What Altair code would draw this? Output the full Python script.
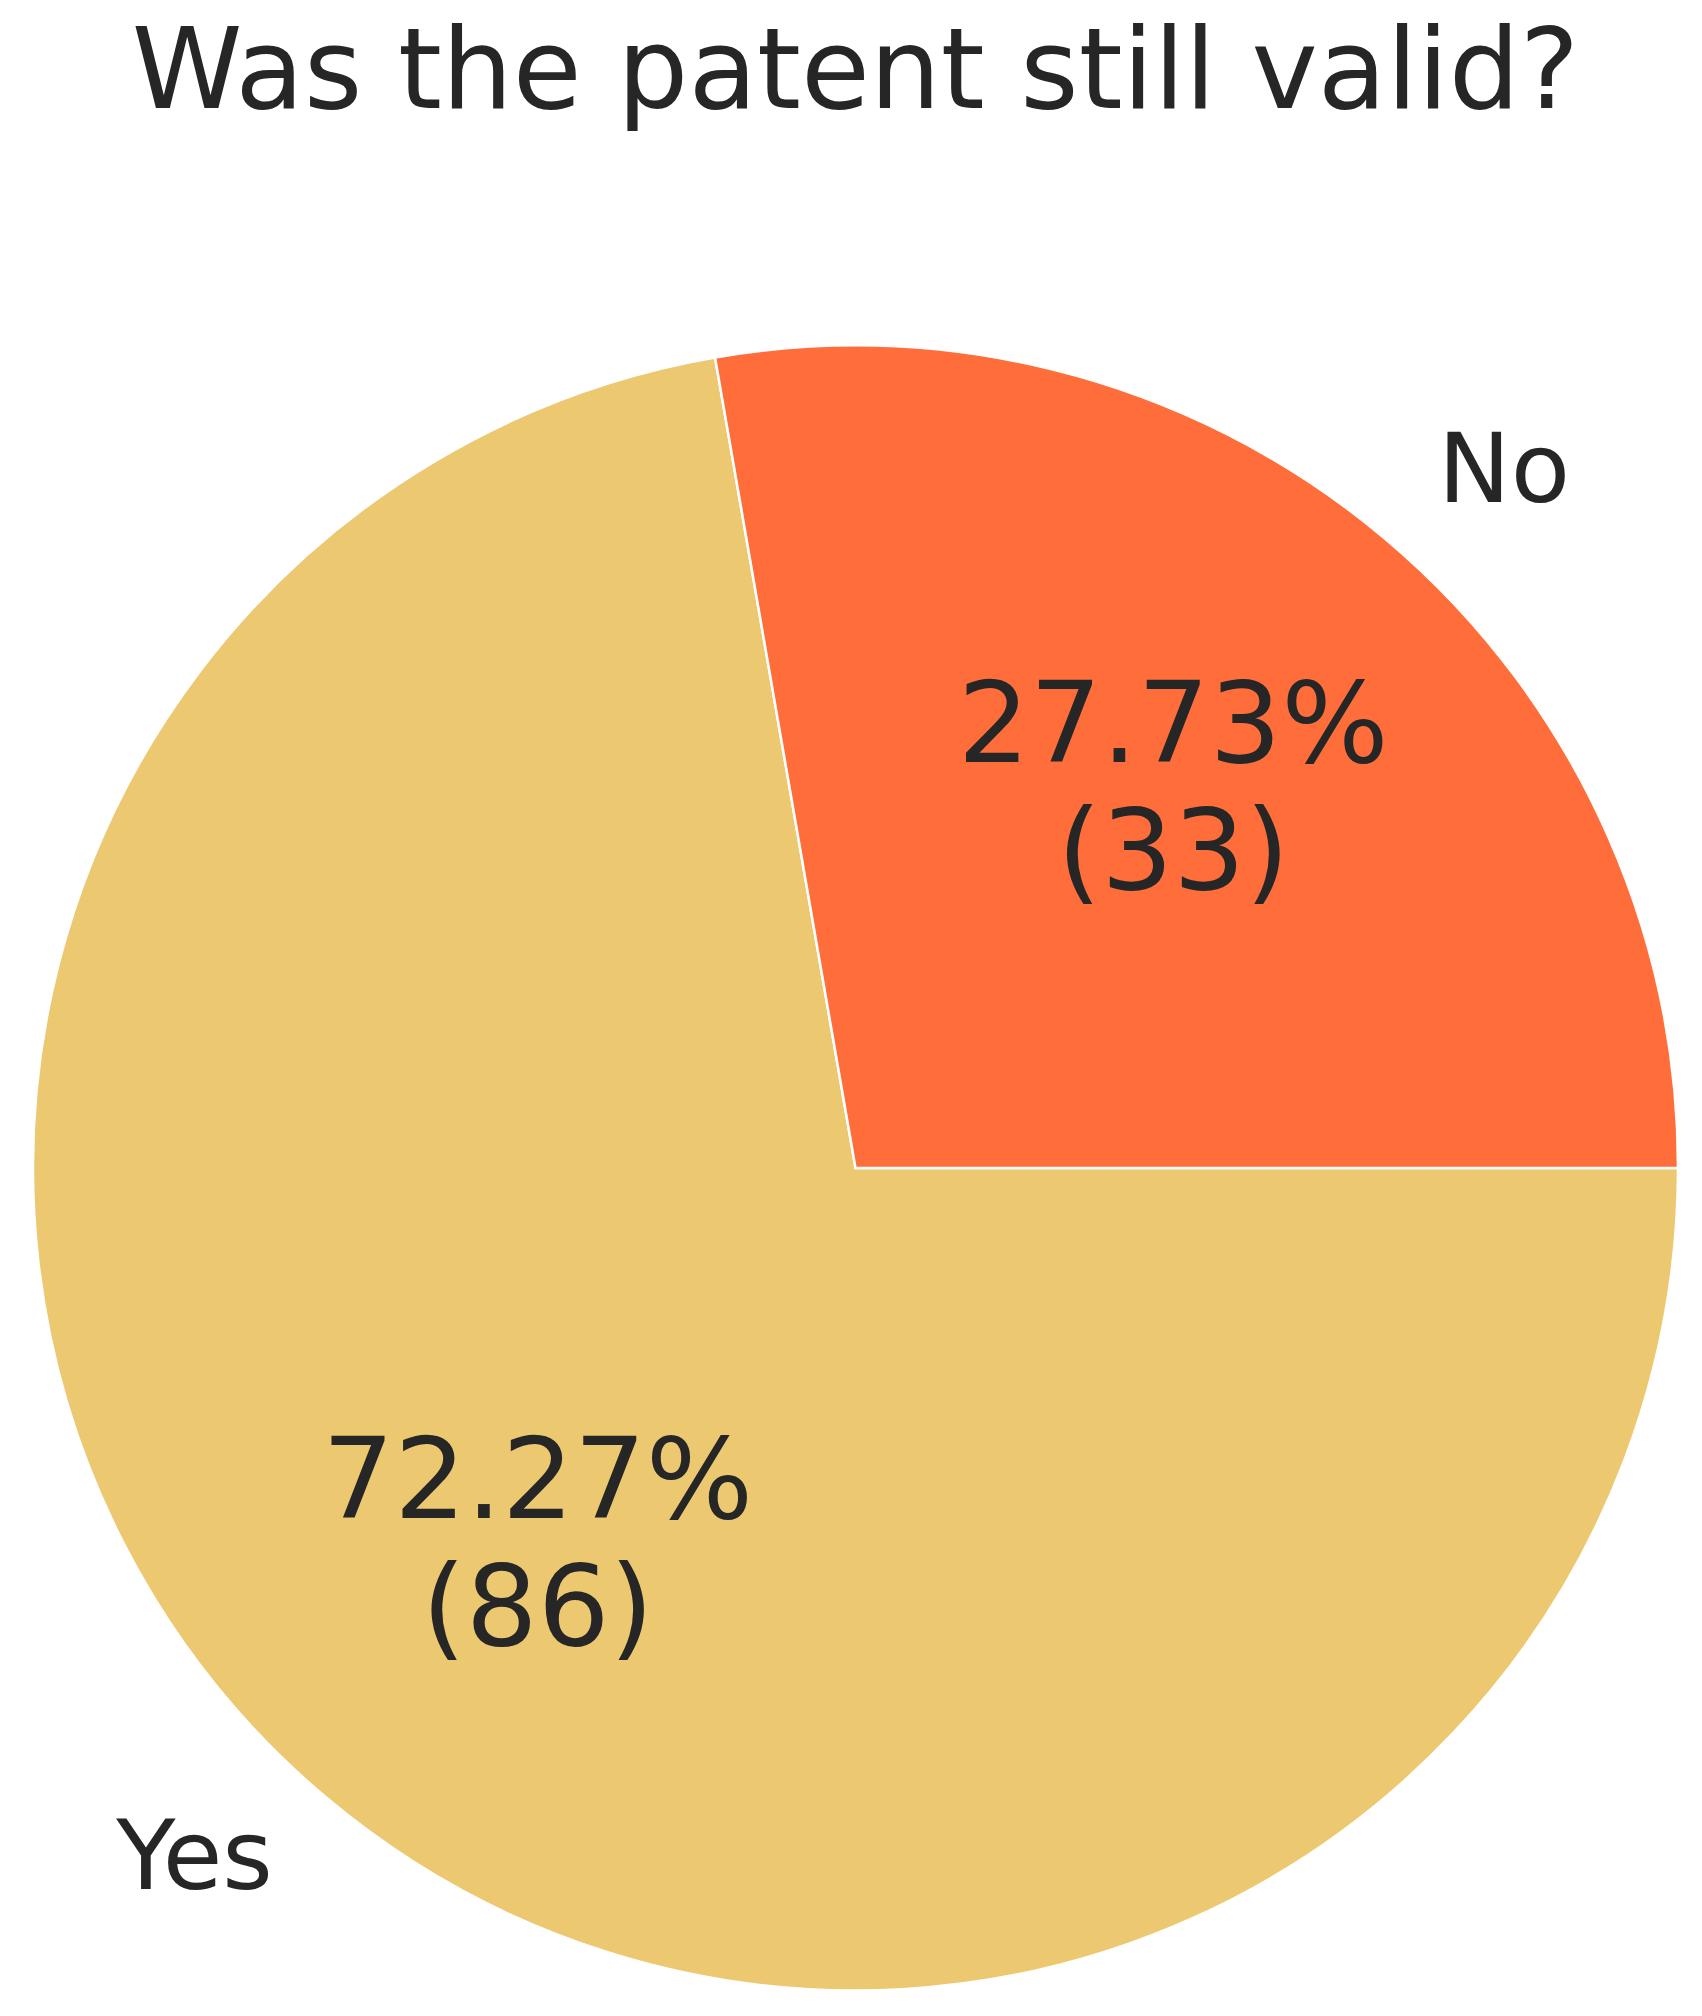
import altair as alt
import pandas as pd

# Data
categories = ["Yes", "No"]
counts = [86, 33]
colors = ["#ecc870", "#ff6e3a"]

total = sum(counts)
pct_labels = [f"{c / total * 100:.2f}%\n({c})" for c in counts]
left_labels = [c if c == "No" else "" for c in categories]
right_labels = [c if c == "Yes" else "" for c in categories]

df = pd.DataFrame({
    "category": categories,
    "count": counts,
    "idx": list(range(len(categories))),
    "pct": pct_labels,
    "lab_left": left_labels,
    "lab_right": right_labels,
})

R = 822.5
FONT = "DejaVu Sans"
TXT = "#262626"
PI = 3.141592653589793

base = alt.Chart(df).encode(
    theta=alt.Theta("count:Q", stack=True,
                    scale=alt.Scale(range=[PI / 2, PI / 2 + 2 * PI])),
    order=alt.Order("idx:Q"),
)

pie = base.mark_arc(outerRadius=R, stroke="white", strokeWidth=2.5).encode(
    color=alt.Color("category:N",
                    scale=alt.Scale(domain=categories, range=colors),
                    legend=None)
)

pct = base.mark_text(radius=R * 0.6, font=FONT, fontSize=113, color=TXT,
                     align="center", baseline="middle", lineBreak="\n",
                     lineHeight=127, dy=-62).encode(text="pct:N")

lab_l = base.mark_text(radius=R * 1.1, font=FONT, fontSize=97, color=TXT,
                       align="left", baseline="middle", dy=-3).encode(text="lab_left:N")

lab_r = base.mark_text(radius=R * 1.1, font=FONT, fontSize=97, color=TXT,
                       align="right", baseline="middle").encode(text="lab_right:N")

chart = alt.layer(pie, pct, lab_l, lab_r).properties(
    width=2 * R,
    height=2 * R,
    title=alt.TitleParams("Was the patent still valid?", font=FONT, fontSize=112,
                          fontWeight="normal", color=TXT, anchor="middle",
                          offset=209),
    autosize=alt.AutoSizeParams(type="none"),
    padding={"left": 25, "top": 337.5, "right": 10, "bottom": 10},
).configure_view(stroke=None)

chart.save("out.html", embed_options={"renderer": "svg", "actions": False})
